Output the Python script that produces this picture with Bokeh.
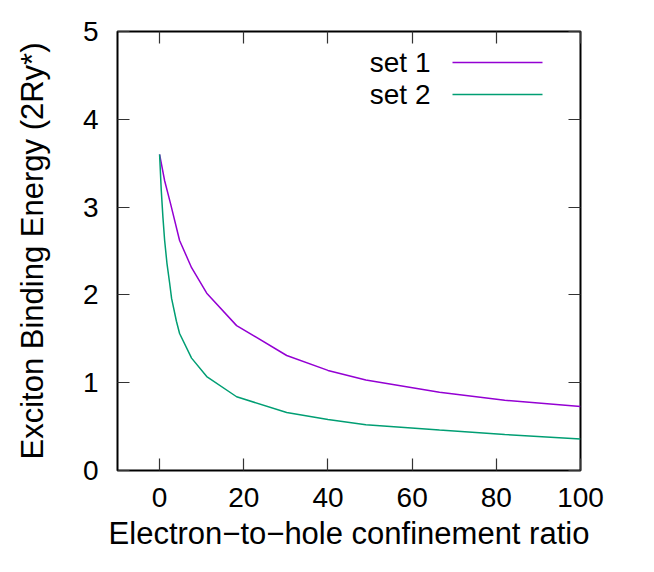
from bokeh.plotting import figure
from bokeh.models import Range1d, LinearAxis, FixedTicker, Label, Arrow
from bokeh.embed import file_html
from bokeh.resources import INLINE

# data
x_set1 = [0, 1.2, 2.6, 4.75, 7.6, 11.2, 18.3, 30.2, 40, 49, 66.5, 82, 100]
y_set1 = [3.60, 3.30, 3.04, 2.62, 2.31, 2.02, 1.65, 1.31, 1.14, 1.03, 0.89, 0.80, 0.73]
x_set2 = [0, 0.4, 0.8, 1.2, 1.75, 2.4, 2.85, 4.0, 4.75, 7.6, 11.2, 18.3, 30.2, 40, 49, 66.5, 82, 100]
y_set2 = [3.60, 3.19, 2.88, 2.62, 2.36, 2.13, 1.96, 1.70, 1.56, 1.28, 1.07, 0.84, 0.66, 0.58, 0.52, 0.46, 0.41, 0.36]
x_ticks = [0, 20, 40, 60, 80, 100]
y_ticks = [0, 1, 2, 3, 4, 5]
series_names = ["set 1", "set 2"]
series_colors = ["#9400D3", "#009E73"]

FONT = "Liberation Sans"
FS = "28px"
FS_LABEL = "31px"

p = figure(width=638, height=556, output_backend="svg", toolbar_location=None,
           x_range=Range1d(-10, 100), y_range=Range1d(0, 5),
           min_border_left=117, min_border_right=58, min_border_top=31, min_border_bottom=86)
p.background_fill_color = "white"
p.border_fill_color = "white"
p.outline_line_color = "black"
p.outline_line_width = 2
p.xgrid.visible = False
p.ygrid.visible = False

p.line(x_set1, y_set1, line_color=series_colors[0], line_width=1.5)
p.line(x_set2, y_set2, line_color=series_colors[1], line_width=1.5)

def style(ax, ticks, show_labels):
    ax.ticker = FixedTicker(ticks=ticks)
    ax.axis_line_color = None
    ax.major_tick_in = 12
    ax.major_tick_out = 0
    ax.major_tick_line_color = "#333333"
    ax.major_tick_line_width = 1.2
    ax.minor_tick_line_color = None
    if show_labels:
        ax.major_label_text_font = FONT
        ax.major_label_text_font_size = FS
        ax.major_label_text_color = "black"
        ax.axis_label_text_font = FONT
        ax.axis_label_text_font_size = FS_LABEL
        ax.axis_label_text_font_style = "normal"
        ax.axis_label_text_color = "black"
    else:
        ax.major_label_overrides = {t: "" for t in ticks}
        ax.major_label_standoff = 0

xa = p.xaxis[0]
ya = p.yaxis[0]
style(xa, x_ticks, True)
style(ya, y_ticks, True)
xa.major_label_standoff = 17
ya.major_label_standoff = 19
xa.axis_label = "Electron\u2212to\u2212hole confinement ratio"
ya.axis_label = "Exciton Binding Energy (2Ry*)"
xa.axis_label_standoff = 6
ya.axis_label_standoff = 30

ra = LinearAxis()
style(ra, y_ticks, False)
p.add_layout(ra, "right")
ta = LinearAxis()
style(ta, x_ticks, False)
p.add_layout(ta, "above")

# legend (gnuplot style: text then sample line)
for i, (name, col) in enumerate(zip(series_names, series_colors)):
    yy = 408 - 32 * i
    p.add_layout(Label(x=313, y=yy, x_units="screen", y_units="screen", text=name,
                       text_align="right", text_baseline="middle",
                       text_font=FONT, text_font_size=FS, text_color="black"))
    p.add_layout(Arrow(end=None, x_start=335, y_start=yy, x_end=425, y_end=yy,
                       start_units="screen", end_units="screen",
                       line_color=col, line_width=1.5))

open("out.html", "w").write(file_html(p, INLINE))
